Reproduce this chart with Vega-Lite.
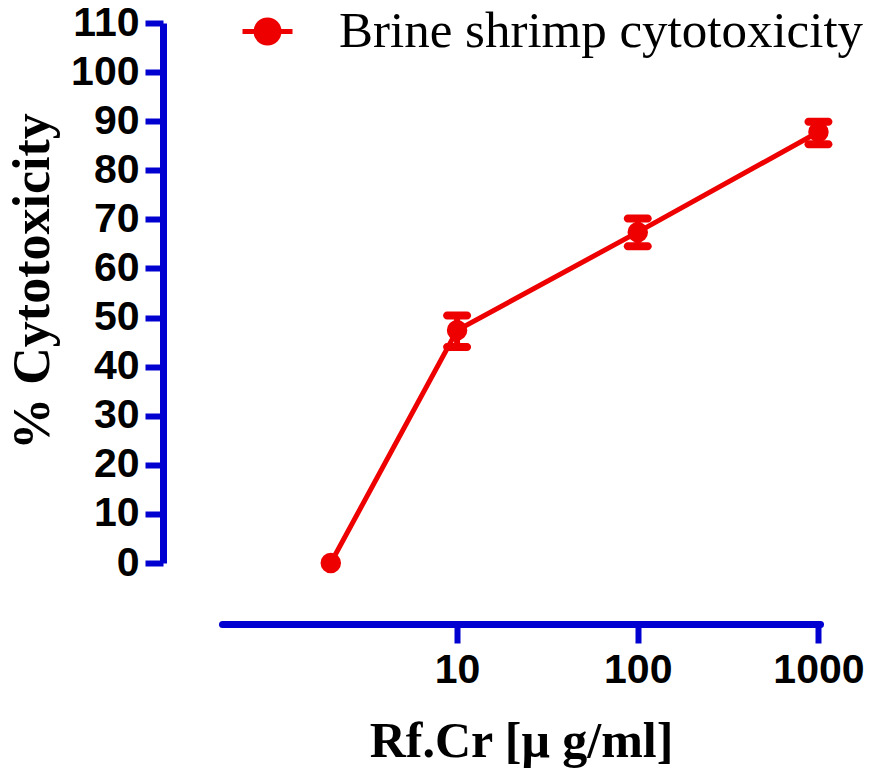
{
  "$schema": "https://vega.github.io/schema/vega-lite/v6.json",
  "autosize": {"type": "none"},
  "padding": {"left": 222, "top": 23, "right": 50, "bottom": 219},
  "width": 598,
  "height": 540,
  "background": "white",
  "config": {"view": {"stroke": null}},
  "data": {"values": [
    {"conc": 2, "mean": 0, "lo": 0, "hi": 0, "series": "Brine shrimp cytotoxicity"},
    {"conc": 10, "mean": 47.4, "lo": 44.0, "hi": 50.4, "series": "Brine shrimp cytotoxicity"},
    {"conc": 100, "mean": 67.4, "lo": 64.5, "hi": 70.2, "series": "Brine shrimp cytotoxicity"},
    {"conc": 1000, "mean": 87.8, "lo": 85.3, "hi": 89.9, "series": "Brine shrimp cytotoxicity"}
  ]},
  "encoding": {
    "x": {
      "field": "conc", "type": "quantitative",
      "scale": {"type": "log", "domain": [0.5, 1020], "nice": false},
      "axis": {
        "title": "Rf.Cr [μ g/ml]",
        "values": [10, 100, 1000],
        "format": "d",
        "offset": 61,
        "grid": false,
        "domainColor": "#0000d0", "domainWidth": 7, "domainCap": "round",
        "tickColor": "#0000d0", "tickWidth": 6, "tickSize": 19,
        "labelFont": "Liberation Sans", "labelFontWeight": "bold", "labelFontSize": 41, "labelColor": "black",
        "labelPadding": 7,
        "titleFont": "Liberation Serif", "titleFontWeight": "bold", "titleFontSize": 50, "titleColor": "black",
        "titlePadding": 26
      }
    },
    "y": {
      "field": "mean", "type": "quantitative",
      "scale": {"domain": [0, 110], "nice": false, "zero": false},
      "axis": {
        "title": "% Cytotoxicity",
        "values": [0, 10, 20, 30, 40, 50, 60, 70, 80, 90, 100, 110],
        "offset": 59,
        "grid": false,
        "domainColor": "#0000d0", "domainWidth": 7,
        "tickColor": "#0000d0", "tickWidth": 6, "tickSize": 18,
        "labelFont": "Liberation Sans", "labelFontWeight": "bold", "labelFontSize": 41, "labelColor": "black",
        "labelPadding": 6,
        "titleFont": "Liberation Serif", "titleFontWeight": "bold", "titleFontSize": 52, "titleColor": "black",
        "titlePadding": 11,
        "titleY": 258
      }
    }
  },
  "layer": [
    {
      "mark": {"type": "line", "color": "#ee0000", "strokeWidth": 5}
    },
    {
      "transform": [{"filter": "datum.conc > 2"}],
      "mark": {"type": "rule", "color": "#ee0000", "strokeWidth": 6},
      "encoding": {"y": {"field": "lo", "type": "quantitative"}, "y2": {"field": "hi"}}
    },
    {
      "transform": [{"filter": "datum.conc > 2"}],
      "mark": {"type": "tick", "orient": "horizontal", "color": "#ee0000", "size": 28, "thickness": 8, "opacity": 1, "cornerRadius": 4},
      "encoding": {"y": {"field": "lo", "type": "quantitative"}}
    },
    {
      "transform": [{"filter": "datum.conc > 2"}],
      "mark": {"type": "tick", "orient": "horizontal", "color": "#ee0000", "size": 28, "thickness": 8, "opacity": 1, "cornerRadius": 4},
      "encoding": {"y": {"field": "hi", "type": "quantitative"}}
    },
    {
      "mark": {"type": "point", "shape": "circle", "filled": true, "opacity": 1, "size": 420},
      "encoding": {
        "color": {
          "field": "series", "type": "nominal",
          "scale": {"range": ["#ee0000"]},
          "legend": {
            "title": null,
            "orient": "none",
            "legendX": 18,
            "legendY": -19,
            "padding": 0,
            "symbolType": "M-1,0H1M-0.46,0A0.46,0.46 0 1,0 0.46,0A0.46,0.46 0 1,0 -0.46,0Z",
            "symbolSize": 2500,
            "symbolFillColor": "#ee0000",
            "symbolStrokeColor": "#ee0000",
            "symbolStrokeWidth": 5,
            "symbolOpacity": 1,
            "labelFont": "Liberation Serif",
            "labelFontSize": 51,
            "labelColor": "black",
            "labelOffset": 44,
            "labelLimit": 700
          }
        }
      }
    }
  ]
}
